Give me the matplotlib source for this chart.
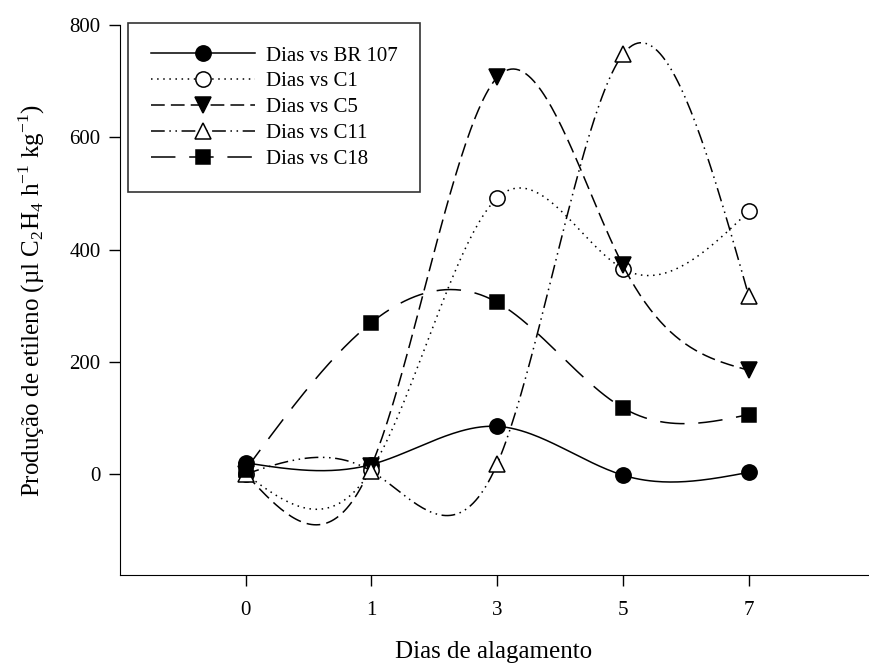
import numpy as np
import matplotlib.pyplot as plt

plt.rcParams['font.family'] = ['Liberation Serif', 'DejaVu Serif']
plt.rcParams['mathtext.fontset'] = 'custom'
plt.rcParams['mathtext.rm'] = 'Liberation Serif'

# Dias de alagamento (categorias) e producao de etileno por genotipo
dias = ['0', '1', '3', '5', '7']
br107 = [20, 17, 85, -2, 3]
c1 = [0, 8, 492, 366, 468]
c5 = [0, 15, 707, 372, 185]
c11 = [0, 5, 18, 748, 318]
c18 = [8, 270, 306, 118, 106]


def spline(x, y, n=200):
    # spline cubica natural para a curva suavizada (como no SigmaPlot)
    x = np.asarray(x, float)
    y = np.asarray(y, float)
    k = len(x)
    h = np.diff(x)
    A = np.zeros((k, k))
    b = np.zeros(k)
    A[0, 0] = A[-1, -1] = 1
    for i in range(1, k - 1):
        A[i, i - 1] = h[i - 1]
        A[i, i] = 2 * (h[i - 1] + h[i])
        A[i, i + 1] = h[i]
        b[i] = 6 * ((y[i + 1] - y[i]) / h[i] - (y[i] - y[i - 1]) / h[i - 1])
    M = np.linalg.solve(A, b)
    xs = np.linspace(x[0], x[-1], n)
    idx = np.clip(np.searchsorted(x, xs) - 1, 0, k - 2)
    x0, x1 = x[idx], x[idx + 1]
    hh = x1 - x0
    t0, t1 = x1 - xs, xs - x0
    ys = (M[idx] * t0 ** 3 + M[idx + 1] * t1 ** 3) / (6 * hh) \
        + (y[idx] / hh - M[idx] * hh / 6) * t0 \
        + (y[idx + 1] / hh - M[idx + 1] * hh / 6) * t1
    return xs, ys


fig = plt.figure(figsize=(8.69, 6.64), dpi=100)
ax = fig.add_axes([0.138, 0.134, 0.861, 0.828])

pos = np.arange(len(dias))
series = [
    ('Dias vs BR 107', br107, dict(marker='o', mfc='black', ls='-'), 11),
    ('Dias vs C1', c1, dict(marker='o', mfc='white', ls=(0, (1, 3))), 11),
    ('Dias vs C5', c5, dict(marker='v', mfc='black', ls=(0, (9, 4))), 11),
    ('Dias vs C11', c11, dict(marker='^', mfc='white', ls=(0, (9, 3, 1, 3, 1, 3))), 11),
    ('Dias vs C18', c18, dict(marker='s', mfc='black', ls=(0, (16, 9))), 9.5),
]

for label, vals, st, ms in series:
    xs, ys = spline(pos, vals)
    ax.plot(xs, ys, color='black', lw=1.1, ls=st['ls'])
    ax.plot(pos, vals, ls='none', marker=st['marker'], mfc=st['mfc'], mec='black',
            ms=ms, mew=1.1)
    ax.plot([], [], color='black', lw=1.1, ls=st['ls'], marker=st['marker'],
            mfc=st['mfc'], mec='black', ms=ms, mew=1.1, label=label)

ax.set_xlim(-1, 4.95)
ax.set_ylim(-180, 800)
ax.set_xticks(pos)
ax.set_xticklabels(dias)
ax.set_yticks([0, 200, 400, 600, 800])
ax.spines['top'].set_visible(False)
ax.spines['right'].set_visible(False)
ax.tick_params(direction='out', length=8, width=1, labelsize=15, pad=6)
ax.tick_params(axis='x', pad=11)

ax.set_xlabel('Dias de alagamento', fontsize=18, labelpad=15)
ax.set_ylabel('Produção de etileno (µl C$_2$H$_4$ h$^{-1}$ kg$^{-1}$)', fontsize=18, labelpad=16)

leg = ax.legend(loc='upper left', bbox_to_anchor=(0.011, 1.004), numpoints=1, handlelength=5.0,
                fontsize=15, frameon=True, fancybox=False, edgecolor='black',
                borderpad=1.1, labelspacing=0.3, handletextpad=0.5, borderaxespad=0)
leg.get_frame().set_linewidth(1.2)

plt.savefig('out.png', dpi=100)
